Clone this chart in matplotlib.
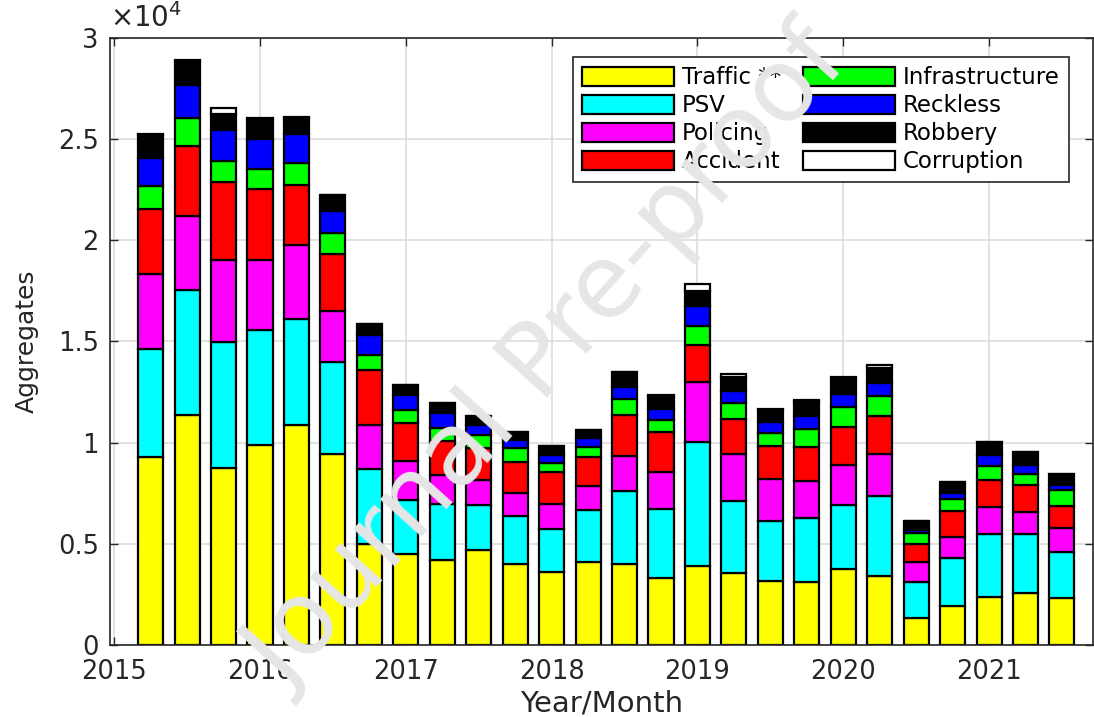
import numpy as np
import matplotlib
matplotlib.use('Agg')
import matplotlib.pyplot as plt
from matplotlib.ticker import FuncFormatter

# quarterly bars, April 2015 .. July 2021 (fractional year)
x = [2015.25 + 0.25 * i for i in range(26)]

labels = ['Traffic **', 'PSV', 'Policing', 'Accident',
          'Infrastructure', 'Reckless', 'Robbery', 'Corruption']
colors = ['#ffff00', '#00ffff', '#ff00ff', '#ff0000',
          '#00ff00', '#0000ff', '#000000', '#ffffff']

traffic = [9270, 11350, 8750, 9870, 10890, 9420, 4990, 4500, 4210, 4700, 4000, 3600, 4090,
           4000, 3330, 3910, 3580, 3180, 3130, 3760, 3420, 1350, 1930, 2360, 2560, 2310]
psv = [5380, 6220, 6240, 5720, 5230, 4580, 3710, 2680, 2770, 2230, 2390, 2130, 2590,
       3620, 3390, 6100, 3560, 2960, 3140, 3170, 3920, 1780, 2360, 3140, 2940, 2280]
policing = [3670, 3630, 4030, 3430, 3630, 2500, 2190, 1890, 1440, 1240, 1120, 1250, 1160,
            1700, 1810, 2980, 2320, 2080, 1860, 1950, 2120, 960, 1040, 1300, 1070, 1190]
accident = [3210, 3470, 3850, 3500, 2970, 2810, 2720, 1910, 1640, 1570, 1530, 1550, 1450,
            2070, 1980, 1860, 1730, 1600, 1640, 1880, 1840, 900, 1270, 1370, 1320, 1070]
infrastructure = [1160, 1370, 1060, 1030, 1080, 1070, 700, 620, 670, 660, 700, 460, 480,
                  770, 590, 940, 780, 660, 910, 1010, 990, 540, 630, 690, 580, 790]
reckless = [1370, 1650, 1520, 1480, 1480, 1070, 990, 780, 740, 490, 370, 420, 460,
            600, 570, 960, 600, 540, 660, 640, 670, 160, 280, 510, 440, 280]
robbery = [1140, 1130, 810, 930, 770, 780, 580, 490, 500, 410, 420, 410, 380,
           720, 610, 740, 680, 580, 660, 730, 720, 460, 570, 640, 630, 550]
corruption = [80, 90, 270, 80, 70, 0, 0, 0, 0, 0, 0, 0, 0,
              0, 100, 330, 120, 80, 90, 110, 150, 0, 0, 0, 0, 0]

series = [traffic, psv, policing, accident, infrastructure, reckless, robbery, corruption]

years = [2015, 2016, 2017, 2018, 2019, 2020, 2021]
yticks = [0, 5000, 10000, 15000, 20000, 25000, 30000]

dark = '#262626'
fig = plt.figure(figsize=(10.94, 7.17), dpi=100)
ax = fig.add_axes([110 / 1094, 72 / 717, 983 / 1094, 607 / 717])

# grid under the bars, axes on top (matlab style)
for yy in yticks:
    ax.axhline(yy, color='#dddddd', lw=1.2, zorder=0)
for yr in years:
    ax.axvline(yr, color='#dddddd', lw=1.2, zorder=0)

bottom = np.zeros(len(x))
for vals, lab, col in zip(series, labels, colors):
    ax.bar(x, vals, width=0.172, bottom=bottom, color=col, edgecolor='black',
           linewidth=1.6, label=lab, zorder=2)
    bottom += np.array(vals)

ax.set_xlim(2014.971, 2021.713)
ax.set_ylim(0, 30000)
ax.set_xticks(years)
ax.set_yticks(yticks)
ax.yaxis.set_major_formatter(FuncFormatter(lambda v, p: '%g' % (v / 1e4)))
ax.tick_params(direction='in', top=True, right=True, length=6, width=1,
               colors=dark, labelsize=18.5)
ax.tick_params(axis='x', pad=10)
ax.tick_params(axis='y', pad=8)
for s in ax.spines.values():
    s.set_color(dark)
    s.set_linewidth(1.2)
    s.set_zorder(5)

ax.text(0.0, 1.008, r'$\times10^{4}$', transform=ax.transAxes, ha='left', va='bottom',
        fontsize=20, color=dark)

ax.set_xlabel('Year/Month', fontsize=21, color=dark)
ax.xaxis.set_label_coords(0.5, -0.074)
ax.set_ylabel('Aggregates', fontsize=18, color=dark, labelpad=14)

leg = ax.legend(ncol=2, loc='upper left', bbox_to_anchor=(573 / 1094, 1 - 57 / 717),
                bbox_transform=fig.transFigure, borderaxespad=0, fontsize=16.5,
                handlelength=4, handleheight=0.9, handletextpad=0.35,
                labelspacing=0.22, columnspacing=0.95, borderpad=0.4,
                fancybox=False, framealpha=1, edgecolor=dark)
leg.get_frame().set_linewidth(1.2)
leg.set_zorder(6)

# watermark
fig.text(548 / 1094, 1 - 360 / 717, 'Journal Pre-proof', fontsize=73, color='#e6e6e6',
         rotation=48, rotation_mode='anchor', ha='center', va='center', zorder=10)

fig.savefig('out.png', dpi=100)
